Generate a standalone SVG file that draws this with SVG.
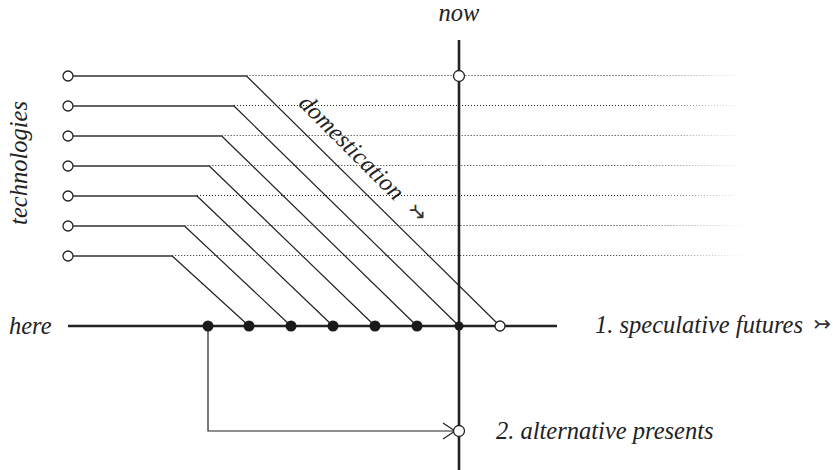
<svg xmlns="http://www.w3.org/2000/svg" width="835" height="470" viewBox="0 0 835 470">
<style>
.t{font-family:"Liberation Serif","Times New Roman",serif;font-style:italic;font-size:24.5px;fill:#222}
.sym{font-family:"DejaVu Sans",sans-serif;font-size:21px;fill:#333}
.dot{fill:none;stroke:url(#fade);stroke-width:1;stroke-dasharray:1 2}
.solid{fill:none;stroke:#333;stroke-width:1.3}
.diag{fill:none;stroke:#222;stroke-width:1.2}
.thick{fill:none;stroke:#222;stroke-width:2.6}
.open{fill:#fff;stroke:#222;stroke-width:1.3}
.fill{fill:#1a1a1a}
</style>
<defs>
<linearGradient id="fade" gradientUnits="userSpaceOnUse" x1="630" y1="0" x2="745" y2="0">
<stop offset="0" stop-color="#222" stop-opacity="1"/>
<stop offset="1" stop-color="#222" stop-opacity="0"/>
</linearGradient>
</defs>
<rect width="835" height="470" fill="#fff"/>
<g id="connectors">
<path class="dot" d="M246.5 75.5H745M234 105.5H745M221.7 135.5H745M209.3 165.5H745M197 195.5H745M184.5 225.5H745M172.2 255.5H745"/>
<path class="solid" d="M73 76H246.5M73 106H234M73 136H221.7M73 166H209.3M73 196H197M73 226H184.5M73 256H172.2"/>
<path class="diag" d="M246.5 76L500 326M234 106L459 326M221.7 136L417 326M209.3 166L375 326M197 196L333 326M184.5 226L291 326M172.2 256L249 326"/>
<path class="thick" d="M68 326H557"/>
<path class="thick" d="M459 40V470"/>
<path fill="none" stroke="#222" stroke-width="1.2" d="M208 326V431H454M443 423L455 431L443 439"/>
</g>
<g id="tech-nodes">
<circle class="open" cx="68" cy="76" r="5"/>
<circle class="open" cx="68" cy="106" r="5"/>
<circle class="open" cx="68" cy="136" r="5"/>
<circle class="open" cx="68" cy="166" r="5"/>
<circle class="open" cx="68" cy="196" r="5"/>
<circle class="open" cx="68" cy="226" r="5"/>
<circle class="open" cx="68" cy="256" r="5"/>
</g>
<g id="here-nodes">
<circle class="fill" cx="208" cy="326" r="5.5"/>
<circle class="fill" cx="249" cy="326" r="5.5"/>
<circle class="fill" cx="291" cy="326" r="5.5"/>
<circle class="fill" cx="333" cy="326" r="5.5"/>
<circle class="fill" cx="375" cy="326" r="5.5"/>
<circle class="fill" cx="417" cy="326" r="5.5"/>
<circle class="fill" cx="459" cy="326" r="4.5"/>
<circle class="open" cx="500" cy="326" r="5"/>
</g>
<g id="now-node"><circle class="open" cx="459" cy="76" r="5.5"/></g>
<g id="alt-node"><circle class="open" cx="459" cy="431" r="5.5"/></g>
<g id="labels">
<text class="t" x="459" y="21" text-anchor="middle">now</text>
<text class="t" x="0" y="0" text-anchor="middle" transform="translate(27 163) rotate(-90)">technologies</text>
<text class="t" x="9" y="334">here</text>
<text class="t" x="595" y="333">1. speculative futures</text>
<text class="sym" x="822" y="331" text-anchor="middle">↣</text>
<text class="t" x="496" y="439">2. alternative presents</text>
<text class="t" x="0" y="0" text-anchor="middle" transform="translate(346 153) rotate(45)">domestication</text>
<text class="sym" x="0" y="0" text-anchor="middle" transform="translate(413 217) rotate(45)">↣</text>
</g>
</svg>
